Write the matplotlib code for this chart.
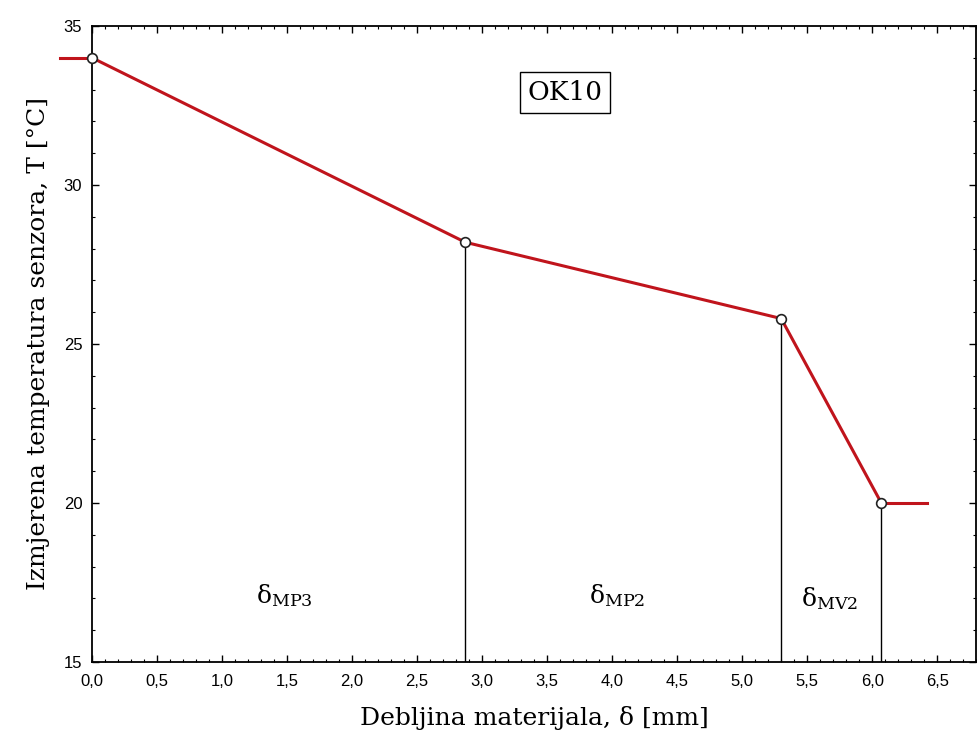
import matplotlib.pyplot as plt
from matplotlib.ticker import MultipleLocator, FuncFormatter

# measured points (thickness in mm, temperature in C)
x_pts = [0.0, 2.87, 5.30, 6.07]
t_pts = [34.0, 28.2, 25.8, 20.0]
# short flat extensions on both ends of the profile
x_left = [-0.25, 0.0]
t_left = [34.0, 34.0]
x_right = [6.07, 6.42]
t_right = [20.0, 20.0]

layer_labels = [r'$\mathregular{\delta_{MP3}}$', r'$\mathregular{\delta_{MP2}}$', r'$\mathregular{\delta_{MV2}}$']
layer_x = [1.48, 4.04, 5.67]
layer_t = [17.1, 17.1, 17.0]

red = '#c0141c'

fig = plt.figure(figsize=(9.77, 7.49), dpi=100)
ax = fig.add_axes([0.0942, 0.1162, 0.905, 0.8491])

ax.plot(x_left, t_left, color=red, lw=2.2, clip_on=False, zorder=3)
ax.plot(x_right, t_right, color=red, lw=2.2, zorder=3)
ax.plot(x_pts, t_pts, color=red, lw=2.2, zorder=3)
ax.vlines(x_pts[1:], 15, t_pts[1:], color='black', lw=1.0, zorder=2)
ax.plot(x_pts, t_pts, ls='none', marker='o', ms=7, mfc='white', mec='#222222',
        mew=1.2, clip_on=False, zorder=4)

for lab, xx, tt in zip(layer_labels, layer_x, layer_t):
    ax.text(xx, tt, lab, family='DejaVu Serif', fontsize=18, ha='center', va='center')

ax.text(0.535, 0.895, 'OK10', transform=ax.transAxes, family='DejaVu Serif', fontsize=19,
        ha='center', va='center',
        bbox=dict(boxstyle='square,pad=0.3', fc='white', ec='black', lw=1.0))

ax.set_xlim(0, 6.8)
ax.set_ylim(15, 35)
ax.xaxis.set_major_locator(MultipleLocator(0.5))
ax.xaxis.set_minor_locator(MultipleLocator(0.1))
ax.yaxis.set_major_locator(MultipleLocator(5))
ax.yaxis.set_minor_locator(MultipleLocator(1))
ax.xaxis.set_major_formatter(FuncFormatter(lambda v, p: f'{v:.1f}'.replace('.', ',')))
ax.yaxis.set_major_formatter(FuncFormatter(lambda v, p: f'{v:.0f}'))
ax.tick_params(which='both', direction='in', top=True, right=True)
ax.tick_params(which='major', length=5, width=1.0, labelsize=12)
ax.tick_params(axis='x', which='major', pad=9)
ax.tick_params(axis='y', which='major', pad=7)
ax.tick_params(which='minor', length=2.5, width=0.8)
for lbl in ax.get_xticklabels() + ax.get_yticklabels():
    lbl.set_family('Liberation Sans')
for s in ax.spines.values():
    s.set_linewidth(1.3)

ax.set_xlabel('Debljina materijala, δ [mm]', family='DejaVu Serif', fontsize=18, labelpad=12)
ax.set_ylabel('Izmjerena temperatura senzora, T [°C]', family='DejaVu Serif', fontsize=18, labelpad=10)

fig.savefig('out.png', dpi=100)
